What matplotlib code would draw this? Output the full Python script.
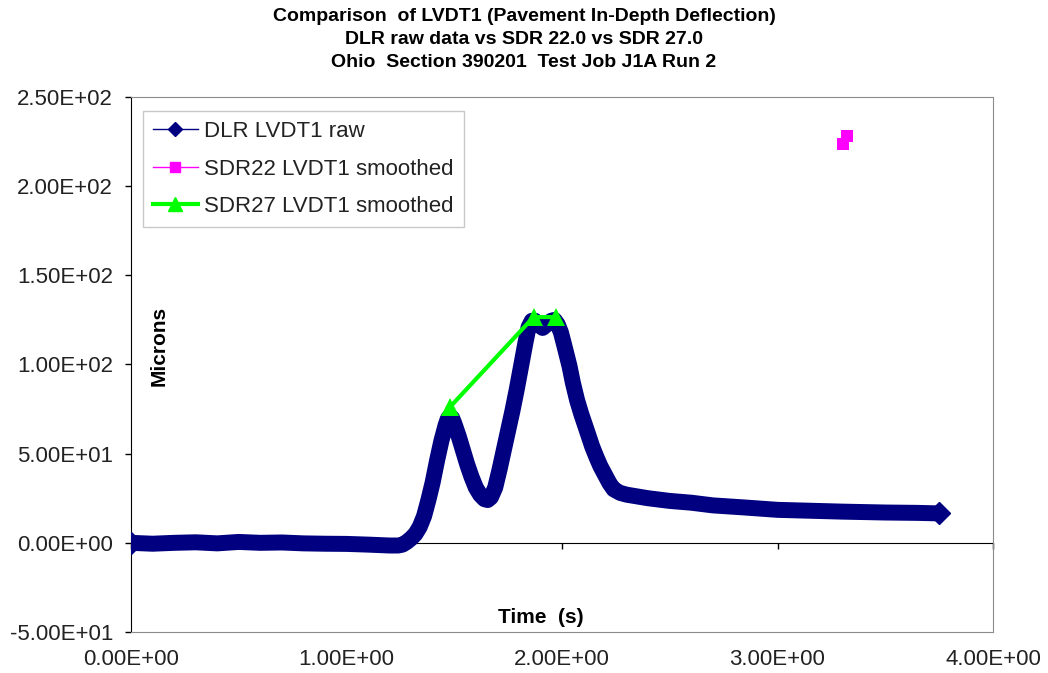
import numpy as np
import matplotlib
matplotlib.use("Agg")
import matplotlib.pyplot as plt
from matplotlib.lines import Line2D
from matplotlib.ticker import FuncFormatter

plt.rcParams["font.family"] = ["Liberation Sans", "DejaVu Sans"]

##### DLR raw LVDT1 trace (time in s, deflection in microns)
dlr_time = [0.00, 0.10, 0.20, 0.30, 0.40, 0.50, 0.60, 0.70, 0.80, 0.90,
            1.00, 1.10, 1.20, 1.24, 1.26, 1.28, 1.30, 1.32, 1.34, 1.36,
            1.38, 1.40, 1.42, 1.44, 1.46, 1.47, 1.48, 1.49, 1.50, 1.52,
            1.54, 1.56, 1.58, 1.60, 1.62, 1.64, 1.655, 1.67, 1.69, 1.71,
            1.73, 1.75, 1.77, 1.79, 1.81, 1.83, 1.845, 1.86, 1.875, 1.89,
            1.91, 1.93, 1.95, 1.965, 1.98, 1.995, 2.01, 2.035, 2.05, 2.07,
            2.09, 2.118, 2.14, 2.16, 2.178, 2.20, 2.22, 2.24, 2.27, 2.30,
            2.35, 2.40, 2.50, 2.60, 2.70, 2.85, 3.00, 3.15, 3.30, 3.50,
            3.65, 3.75]
dlr_lvdt1 = [0.0, -0.5, 0.0, 0.3, -0.3, 0.5, 0.0, 0.2, -0.3, -0.5,
             -0.6, -1.0, -1.5, -1.5, -1.0, 0.5, 2.5, 5.0, 9.0, 15.0,
             24.0, 34.0, 46.0, 57.0, 66.0, 69.5, 71.0, 70.0, 67.0, 60.0,
             52.0, 44.0, 37.0, 31.0, 27.0, 24.5, 24.0, 25.5, 31.0, 41.0,
             52.0, 63.0, 74.0, 86.0, 99.0, 112.0, 121.0, 124.5, 124.5, 122.5,
             120.5, 122.5, 124.5, 125.0, 122.5, 118.0, 111.0, 99.0, 90.0, 80.0,
             72.0, 62.0, 54.0, 48.0, 43.0, 38.0, 33.5, 30.0, 28.0, 27.0,
             26.0, 25.0, 23.5, 22.5, 21.0, 19.8, 18.5, 18.0, 17.5, 17.0,
             16.8, 16.5]

##### SDR smoothed peaks
sdr22_time = [3.302, 3.321]
sdr22_lvdt1 = [223.5, 228.0]
sdr27_time = [1.479, 1.868, 1.970]
sdr27_lvdt1 = [76.0, 126.6, 126.6]

x_ticks = [0.0, 1.0, 2.0, 3.0, 4.0]
y_ticks = [-50.0, 0.0, 50.0, 100.0, 150.0, 200.0, 250.0]

navy = "#000080"
magenta = "#FF00FF"
green = "#00FF00"
grey = "#8C8C8C"

fig = plt.figure(figsize=(10.48, 6.73), dpi=100)
ax = fig.add_axes([131 / 1048, 41 / 673, 862 / 1048, 535 / 673])

ax.plot(dlr_time, dlr_lvdt1, color=navy, linewidth=11.5, marker="D", markersize=11,
        markevery=[0, len(dlr_time) - 1],
        solid_capstyle="round", solid_joinstyle="round", zorder=3)
ax.plot(sdr22_time, sdr22_lvdt1, color=magenta, linewidth=1, marker="s",
        markersize=8, markeredgewidth=0, zorder=4)
ax.plot(sdr27_time, sdr27_lvdt1, color=green, linewidth=3, marker="^",
        markersize=13, markeredgewidth=0, zorder=5)

ax.set_xlim(0, 4)
ax.set_ylim(-50, 250)

sci = FuncFormatter(lambda v, pos: f"{v:.2E}")
ax.set_xticks(x_ticks)
ax.set_yticks(y_ticks)
ax.xaxis.set_major_formatter(sci)
ax.yaxis.set_major_formatter(sci)
ax.tick_params(axis="x", length=0, pad=12, labelsize=16, colors="#222222")
ax.tick_params(axis="y", direction="out", length=4, width=1, pad=9,
               labelsize=16, labelcolor="#222222", color="black")

for side in ("top", "right", "bottom"):
    ax.spines[side].set_color(grey)
ax.spines["left"].set_color("black")

##### horizontal axis line drawn through y = 0
y0 = (0 - ax.get_ylim()[0]) / (ax.get_ylim()[1] - ax.get_ylim()[0])
secax = ax.secondary_xaxis(y0)
secax.set_xticks(x_ticks)
secax.tick_params(axis="x", direction="out", length=4, width=1,
                  labelbottom=False, labeltop=False, color="black")
secax.spines["bottom"].set_color("black")
secax.spines["top"].set_color("black")

ax.text(0.033, 0.535, "Microns", transform=ax.transAxes, rotation=90,
        fontsize=15, fontweight="bold", ha="center", va="center")
ax.text(0.476, 0.028, "Time  (s)", transform=ax.transAxes,
        fontsize=15, fontweight="bold", ha="center", va="center")

fig.text(0.5, 0.988, "Comparison  of LVDT1 (Pavement In-Depth Deflection)\n"
         "DLR raw data vs SDR 22.0 vs SDR 27.0\n"
         "Ohio  Section 390201  Test Job J1A Run 2",
         ha="center", va="top", fontsize=14, fontweight="bold", linespacing=1.45)

handles = [
    Line2D([], [], color=navy, linewidth=1, marker="D", markersize=7),
    Line2D([], [], color=magenta, linewidth=1, marker="s", markersize=7),
    Line2D([], [], color=green, linewidth=3, marker="^", markersize=10),
]
labels = ["DLR LVDT1 raw", "SDR22 LVDT1 smoothed", "SDR27 LVDT1 smoothed"]
leg = ax.legend(handles, labels, loc="upper left", bbox_to_anchor=(0.014, 0.974),
                borderaxespad=0, fontsize=16, frameon=True, fancybox=False,
                edgecolor="#BBBBBB", handlelength=2.0, handletextpad=0.3,
                labelspacing=0.75, borderpad=0.45)
leg.get_frame().set_linewidth(1)
for t in leg.get_texts():
    t.set_color("#222222")

fig.savefig("out.png", dpi=100)
